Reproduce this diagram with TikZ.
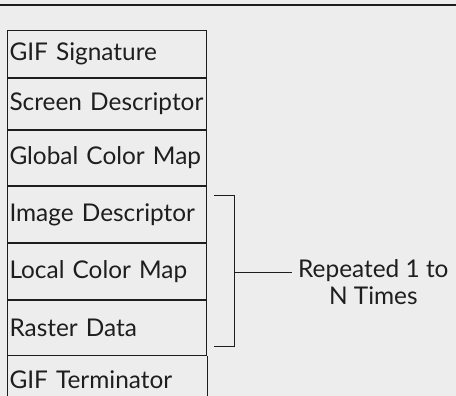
\documentclass[tikz,border=0pt]{standalone}
\usepackage{fontspec}
\setmainfont{Lato}
\usetikzlibrary{positioning}
\definecolor{paper}{HTML}{EDEDED}
\definecolor{ink}{HTML}{1E1E1E}

\tikzset{
  field/.style={draw=ink,line width=1pt,text=ink,anchor=north west,
    text width=195pt,inner xsep=2pt,inner ysep=0pt,align=left,font=\fontsize{24.4}{28}\selectfont},
  link/.style={draw=ink,line width=0.9pt},
}

\begin{document}
\begin{tikzpicture}[x=1pt,y=1pt]
    \clip (0,0) rectangle (456,396);
    \fill[paper] (0,0) rectangle (456,396);
    % the rule along the top of the page
    \draw[ink,line width=1.3pt] (0,391) -- (456,391);

    % the stack of blocks, top to bottom
    \node[field,minimum height=47pt] (sig) at (7,366) {GIF Signature};
    \node[field,minimum height=51pt,below=0pt of sig.south west,anchor=north west] (screen) {Screen Descriptor};
    \node[field,minimum height=55pt,below=0pt of screen.south west,anchor=north west] (global) {Global Color Map};
    \node[field,minimum height=56pt,below=0pt of global.south west,anchor=north west] (imgdesc) {Image Descriptor};
    \node[field,minimum height=56pt,below=0pt of imgdesc.south west,anchor=north west] (local) {Local Color Map};
    \node[field,minimum height=55pt,below=0pt of local.south west,anchor=north west] (raster) {Raster Data};
    % last block runs off the bottom edge, so only its sides are drawn
    \node[field,draw=none,minimum height=46pt,below=0pt of raster.south west,anchor=north west] (term) {GIF Terminator};
    \draw[link,line width=1pt] (term.north west) -- ++(0,-60);
    \draw[link,line width=1pt] (term.north east) -- ++(0,-60);

    % bracket round the repeated group
    \coordinate (btop) at ([xshift=7pt,yshift=-9pt]imgdesc.north east);
    \coordinate (bbot) at ([xshift=7pt,yshift=10pt]raster.south east);
    \draw[link] (btop) -- ++(20,0) coordinate (bcorner) |- (bbot);
    \coordinate (bmid) at (bcorner |- local.east);

    \node[text=ink,align=center,anchor=west,inner sep=0pt,font=\fontsize{24.4}{27}\selectfont]
      (rep) at (298,114) {Repeated 1 to\\N Times};
    \draw[link] ([yshift=-1pt]bmid) -- ++(58,0);
  \end{tikzpicture}
\end{document}
